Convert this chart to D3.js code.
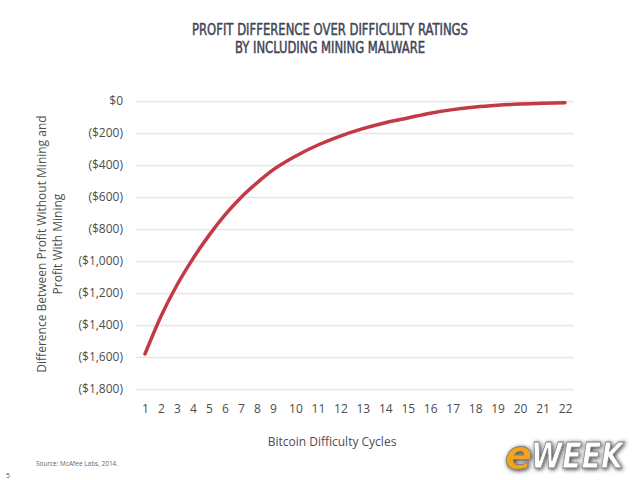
<!DOCTYPE html>
<html>
<head>
<meta charset="utf-8">
<script src="https://cdn.jsdelivr.net/npm/d3@7"></script>
<style>
  body { margin: 0; background: #fff; }
  svg { display: block; }
</style>
</head>
<body>
<svg width="640" height="480"></svg>
<script>
let svg = d3.select("svg");

// data
let cycles = d3.range(1, 23);
let profitDiff = [-1581, -1345, -1150, -985, -840, -712, -603, -512, -431, -345, -275,
                  -219, -173, -136, -106, -76, -54, -38, -27, -19, -14, -11];
let yTicks = [0, -200, -400, -600, -800, -1000, -1200, -1400, -1600, -1800];
let titleLines = ["PROFIT DIFFERENCE OVER DIFFICULTY RATINGS", "BY INCLUDING MINING MALWARE"];
let yTitleLines = ["Difference Between Profit Without Mining and", "Profit With Mining"];

let labelFont = "'Open Sans', 'DejaVu Sans', sans-serif";
let gridLeft = 136, gridRight = 574;
let lineColor = "#c23a44";

// single-digit labels sit closer together than the two-digit ones
let x = d3.scaleLinear().domain([1, 9, 22]).range([145, 273, 565]);
let y = d3.scaleLinear().domain([0, -1800]).range([101, 389]);

let money = v => v === 0 ? "$0" : "($" + d3.format(",")(-v) + ")";

// title
svg.selectAll("text.title")
    .data(titleLines)
    .enter().append("text")
    .attr("class", "title")
    .attr("x", 330)
    .attr("y", (d, i) => 35 + i * 18)
    .attr("text-anchor", "middle")
    .attr("textLength", (d, i) => i === 0 ? 276 : 190)
    .attr("lengthAdjust", "spacingAndGlyphs")
    .style("font-family", "'DejaVu Sans Condensed', 'DejaVu Sans', sans-serif")
    .style("font-size", "15px")
    .style("fill", "#3f4656")
    .style("stroke", "#3f4656")
    .style("stroke-width", 0.45)
    .text(d => d);

// gridlines
svg.append("g")
    .attr("transform", "translate(" + gridLeft + ",0)")
    .call(d3.axisLeft(y).tickValues(yTicks).tickSize(-(gridRight - gridLeft)).tickFormat(""))
    .call(g => g.select(".domain").remove())
    .call(g => g.selectAll("line").attr("stroke", "#e5e5e5").attr("stroke-width", 1.5));

// y labels
svg.append("g")
    .attr("transform", "translate(123,0)")
    .call(d3.axisLeft(y).tickValues(yTicks).tickSize(0).tickPadding(0).tickFormat(money))
    .call(g => g.select(".domain").remove())
    .call(g => g.selectAll("text")
        .style("font-family", labelFont)
        .style("font-size", "12px")
        .style("fill", "#4d4d4d"));

// x labels
svg.append("g")
    .attr("transform", "translate(0,400)")
    .call(d3.axisBottom(x).tickValues(cycles).tickSize(0).tickPadding(4).tickFormat(d3.format("d")))
    .call(g => g.select(".domain").remove())
    .call(g => g.selectAll("text")
        .style("font-family", labelFont)
        .style("font-size", "12px")
        .style("fill", "#4d4d4d"));

// curve
let line = d3.line()
    .x((d, i) => x(cycles[i]))
    .y(d => y(d))
    .curve(d3.curveMonotoneX);

svg.append("path")
    .datum(profitDiff)
    .attr("d", line)
    .attr("fill", "none")
    .attr("stroke", lineColor)
    .attr("stroke-width", 3.5)
    .attr("stroke-linecap", "round");

// axis titles
svg.append("text")
    .attr("x", 332)
    .attr("y", 446)
    .attr("text-anchor", "middle")
    .style("font-family", labelFont)
    .style("font-size", "12px")
    .style("fill", "#4d4d4d")
    .text("Bitcoin Difficulty Cycles");

svg.append("g")
    .attr("transform", "translate(46,244) rotate(-90)")
    .selectAll("text")
    .data(yTitleLines)
    .enter().append("text")
    .attr("x", 0)
    .attr("y", (d, i) => i * 15.5)
    .attr("text-anchor", "middle")
    .style("font-family", labelFont)
    .style("font-size", "12px")
    .style("fill", "#4d4d4d")
    .text(d => d);

// source + page number
svg.append("text")
    .attr("x", 36)
    .attr("y", 466)
    .attr("textLength", 82)
    .attr("lengthAdjust", "spacingAndGlyphs")
    .style("font-family", labelFont)
    .style("font-size", "7.5px")
    .style("fill", "#666")
    .text("Source: McAfee Labs, 2014.");

svg.append("text")
    .attr("x", 6)
    .attr("y", 478)
    .style("font-family", labelFont)
    .style("font-size", "7px")
    .style("fill", "#555")
    .text("5");

// eWEEK logo
let defs = svg.append("defs");
let f = defs.append("filter").attr("id", "shadow").attr("x", "-20%").attr("y", "-30%")
    .attr("width", "140%").attr("height", "160%");
f.append("feGaussianBlur").attr("in", "SourceAlpha").attr("stdDeviation", 2.2).attr("result", "b");
f.append("feOffset").attr("in", "b").attr("dx", 1).attr("dy", 1).attr("result", "o");
f.append("feComponentTransfer").attr("in", "o").attr("result", "s")
    .append("feFuncA").attr("type", "linear").attr("slope", 0.8);
let fm = f.append("feMerge");
fm.append("feMergeNode").attr("in", "s");
fm.append("feMergeNode").attr("in", "SourceGraphic");

let logo = svg.append("g").attr("filter", "url(#shadow)")
    .style("font-family", "'DejaVu Sans', sans-serif")
    .style("font-weight", "bold")
    .style("font-style", "italic")
    .style("stroke", "#7a7a7a")
    .style("stroke-width", 0.8);
logo.append("text")
    .attr("x", 505)
    .attr("y", 469)
    .style("font-size", "40px")
    .style("fill", "#f2a41f")
    .text("e");
logo.append("text")
    .attr("x", 531)
    .attr("y", 468)
    .attr("textLength", 92)
    .attr("lengthAdjust", "spacingAndGlyphs")
    .style("font-size", "36px")
    .style("fill", "#ffffff")
    .text("WEEK");
</script>
</body>
</html>
